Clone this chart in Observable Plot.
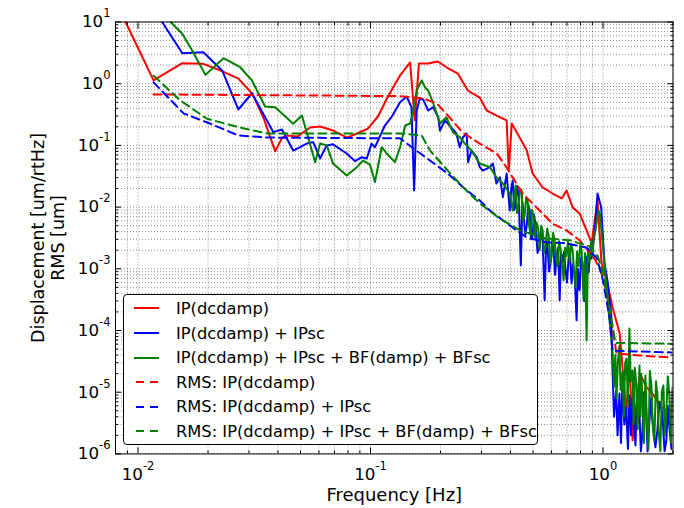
<!DOCTYPE html>
<html><head><meta charset="utf-8">
<script src="https://cdn.jsdelivr.net/npm/d3@7"></script>
<script src="https://cdn.jsdelivr.net/npm/@observablehq/plot@0.6"></script>
<style>
html,body{margin:0;padding:0;background:#fff;}
#wrap{position:relative;width:684px;height:508px;overflow:hidden;font-family:"DejaVu Sans",sans-serif;}
#legend{position:absolute;left:123px;top:294px;width:415px;height:151px;border:1px solid #000;border-radius:4px;background:#fff;box-sizing:border-box;}
.row{position:absolute;left:0;height:20px;display:flex;align-items:center;font-size:16.3px;color:#000;white-space:nowrap;}
.row svg{margin-left:10px;margin-right:17px;}
</style></head><body><div id="wrap"></div>
<script>
// ---- data: [frequency Hz, value] ----
const ipDcdamp = [
[0.00884,10],[0.01166,1.13],[0.0155,2.15],[0.0191,2.1],[0.0226,1.64],[0.027,1.21],[0.031,0.69],[0.0346,0.283],
[0.0389,0.080],[0.0417,0.134],[0.0438,0.145],[0.0484,0.139],[0.055,0.195],[0.0607,0.202],[0.069,0.174],[0.0793,0.134],
[0.0875,0.156],[0.0976,0.188],[0.1076,0.294],[0.1177,0.575],[0.125,0.867],[0.134,1.36],[0.148,2.21],[0.155,0.254],
[0.1615,2.12],[0.1767,2.12],[0.195,2.29],[0.213,1.83],[0.2375,1.46],[0.262,0.776],[0.295,0.597],[0.316,0.368],
[0.349,0.305],[0.385,0.254],[0.393,0.039],[0.405,0.226],[0.438,0.134],[0.47,0.0826],[0.498,0.035],[0.55,0.0208],
[0.607,0.0166],[0.664,0.0138],[0.697,0.0186],[0.74,0.0099],[0.793,0.0079],[0.85,0.0042],[0.893,0.0026],[0.947,0.0128],
[0.985,0.00126],[1.035,6.5e-4],[1.1,2.36e-4],[1.18,8.9e-5],[1.26,4.5e-6],[1.3,3.3e-5],[1.34,1.66e-6],[1.44,2.0e-5],
[1.54,1.2e-5],[1.63,9.5e-6],[1.8,5.6e-6],[1.93,4.5e-6]
];
const ipIpsc = [
[0.0127,10],[0.0155,3.12],[0.0191,3.24],[0.023,1.64],[0.027,0.382],[0.0309,0.70],[0.0382,0.164],[0.0416,0.181],
[0.0465,0.0826],[0.0532,0.107],[0.0567,0.113],[0.0607,0.0614],[0.0648,0.1],[0.069,0.104],[0.079,0.074],[0.0858,0.0555],
[0.0917,0.0644],[0.0963,0.0614],[0.101,0.107],[0.1045,0.0935],[0.1153,0.21],[0.123,0.286],[0.134,0.50],[0.143,0.62],
[0.150,0.416],[0.154,0.0186],[0.158,0.368],[0.163,0.575],[0.1685,0.555],[0.177,0.368],[0.186,0.416],[0.1955,0.286],
[0.199,0.174],[0.209,0.254],[0.219,0.21],[0.234,0.156],[0.242,0.0935],[0.25,0.136],[0.259,0.156],[0.263,0.0535],
[0.272,0.0826],[0.286,0.0644],[0.295,0.0444],[0.304,0.039],[0.326,0.0444],[0.336,0.051],[0.348,0.0241],[0.36,0.0305],
[0.371,0.0145],[0.385,0.035],
[0.397,0.0088],[0.403,0.02],[0.409,0.027],[0.415,0.009],[0.421,0.0106],[0.427,0.022],[0.434,0.0154],[0.443,0.00113],
[0.45,0.012],[0.456,0.0073],[0.463,0.0035],[0.470,0.005],[0.477,0.011],[0.484,0.0088],[0.491,0.003],[0.498,0.0035],
[0.505,0.0075],[0.513,0.005],[0.523,0.0018],[0.534,0.0024],[0.542,0.0042],[0.550,0.0029],[0.561,3.1e-4],[0.57,0.0032],
[0.578,0.0021],[0.586,0.0009],[0.595,0.00126],[0.604,0.0028],[0.613,0.002],[0.622,8e-4],[0.632,0.00164],[0.641,0.0022],
[0.651,3.1e-4],[0.660,0.0018],[0.670,0.00126],[0.680,0.0019],[0.690,9.4e-4],[0.70,0.0006],[0.711,0.00147],[0.721,0.0018],
[0.732,5.8e-4],[0.743,0.0012],[0.755,7.8e-4],[0.770,1.46e-4],[0.78,0.001],[0.793,4.5e-4],[0.805,0.0015],[0.817,0.00126],
[0.829,3e-4],[0.841,6.5e-4],[0.854,0.0016],[0.867,8.7e-4],[0.879,0.0019],[0.892,0.00147],[0.905,0.0025],[0.919,0.0035],
[0.933,0.008],[0.947,0.0166],[0.982,0.0099],[1.015,0.00122],[1.045,6.5e-4],[1.084,1.9e-4],
[1.098,2.5e-5],[1.115,4e-6],[1.139,1.07e-5],[1.155,2e-6],[1.177,9.5e-6],[1.195,1.5e-6],[1.212,1.55e-5],[1.235,3e-6],
[1.258,5.6e-6],[1.28,1.2e-6],[1.299,8.8e-6],[1.32,2e-6],[1.339,8.2e-6],[1.379,1.37e-6],[1.40,9e-6],[1.435,4.5e-6],
[1.455,1.1e-6],[1.477,2.1e-6],[1.50,1e-5],[1.532,5.6e-6],[1.555,1.1e-6],[1.584,3.5e-6],[1.61,8e-6],[1.631,3.5e-6],
[1.68,1.28e-6],[1.713,2.4e-6],[1.75,7e-6],[1.80,4.5e-6],[1.84,1.1e-6],[1.873,1.66e-6],[1.90,6e-6],[1.929,2.7e-6],[1.97,1.2e-6]
];
const ipIpscBfBfsc = [
[0.0138,10],[0.0155,6.44],[0.0171,3.45],[0.0195,1.39],[0.0233,2.59],[0.0275,1.85],[0.0309,1.13],[0.0352,0.427],
[0.0389,0.416],[0.0465,0.224],[0.0507,0.305],[0.0578,0.0535],[0.0607,0.107],[0.0648,0.1],[0.069,0.051],[0.079,0.0325],
[0.0873,0.0444],[0.0929,0.0569],[0.0995,0.049],[0.1045,0.0254],[0.1117,0.0935],[0.1174,0.074],[0.1274,0.0535],[0.134,0.0935],
[0.141,0.21],[0.148,0.226],[0.152,0.329],[0.158,0.776],[0.166,1.13],[0.1715,0.877],[0.177,0.776],[0.1855,0.50],
[0.199,0.226],[0.212,0.286],[0.226,0.164],[0.242,0.136],[0.2545,0.107],[0.272,0.0826],[0.295,0.051],[0.326,0.0444],
[0.348,0.0305],[0.371,0.0241],[0.397,0.0166],
[0.409,0.0088],[0.415,0.015],[0.421,0.0224],[0.427,0.008],[0.434,0.0106],[0.44,0.02],[0.447,0.0186],[0.453,0.006],
[0.460,0.0073],[0.467,0.014],[0.474,0.0128],[0.481,0.005],[0.488,0.0035],[0.495,0.009],[0.503,0.0073],[0.51,0.0032],
[0.518,0.0057],[0.526,0.0045],[0.534,0.002],[0.542,0.005],[0.550,0.0042],[0.558,0.0018],[0.567,0.0024],[0.575,0.0045],
[0.584,0.0035],[0.592,0.0012],[0.601,0.0016],[0.61,0.0038],[0.619,0.0029],[0.628,0.0015],[0.638,0.0011],[0.647,0.0028],
[0.657,0.0021],[0.667,0.0012],[0.677,6.5e-4],[0.687,0.0022],[0.697,0.0016],[0.707,0.0028],[0.718,0.0013],[0.729,0.0025],
[0.740,0.002],[0.751,0.0009],[0.762,5.1e-4],[0.773,0.0019],[0.785,0.0011],[0.797,0.0024],[0.809,0.002],[0.817,9e-4],
[0.825,3.1e-4],[0.837,0.0018],[0.850,6.9e-5],[0.862,0.0021],[0.875,0.0013],[0.888,0.0028],[0.901,0.0016],[0.915,0.0035],
[0.929,0.0042],[0.943,0.0065],[0.957,0.0088],[0.971,0.0075],[0.985,0.0042],[1.025,7.8e-4],[1.066,1.46e-4],
[1.098,4.7e-5],[1.115,1.2e-5],[1.13,4e-5],[1.143,8e-6],[1.16,3.3e-5],[1.177,5.7e-5],[1.19,1.1e-5],[1.212,2.1e-5],
[1.23,4e-6],[1.245,3e-5],[1.262,3.5e-5],[1.28,6e-6],[1.299,1.08e-4],[1.315,1.5e-5],[1.339,2.25e-5],[1.355,3e-6],
[1.37,2.5e-5],[1.393,1.29e-5],[1.41,2.5e-6],[1.435,2.7e-5],[1.45,4e-6],[1.46,2e-5],[1.477,8.85e-6],[1.50,1.5e-6],
[1.522,1.87e-5],[1.545,3e-6],[1.568,1.2e-6],[1.59,2.2e-5],[1.615,1.29e-5],[1.64,2.5e-6],[1.663,1.66e-6],[1.69,1.5e-5],
[1.713,8.85e-6],[1.74,2e-6],[1.765,1.1e-6],[1.79,1e-5],[1.818,1.29e-5],[1.845,2e-6],[1.873,5.1e-6],[1.90,1.8e-5],
[1.929,8.85e-6],[1.96,1.5e-6],[1.99,1.2e-5]
];
const rmsIpDcdamp = [
[0.01166,0.67],[0.134,0.63],[0.151,0.6],[0.168,0.58],[0.193,0.477],[0.219,0.283],[0.249,0.162],[0.295,0.107],
[0.349,0.074],[0.385,0.0438],[0.451,0.0166],[0.607,0.0054],[0.697,0.0042],[0.793,0.0029],[0.901,0.00164],[0.966,0.00105],
[1.035,4.46e-4],[1.098,1.12e-4],[1.143,4.24e-5],[1.435,3.94e-5],[1.98,3.65e-5]
];
const rmsIpIpsc = [
[0.01166,1.05],[0.0157,0.33],[0.0205,0.224],[0.027,0.145],[0.036,0.134],[0.134,0.13],[0.151,0.093],[0.18,0.057],
[0.215,0.035],[0.25,0.021],[0.295,0.0128],[0.326,0.0088],[0.385,0.0055],[0.47,0.0032],[0.57,0.0027],[0.69,0.0026],
[0.85,0.0022],[0.94,0.0015],[1.0,6.5e-4],[1.07,1.5e-4],[1.1,4.7e-5],[1.98,4.4e-5]
];
const rmsAll = [
[0.01166,1.35],[0.0152,0.535],[0.0198,0.27],[0.0275,0.195],[0.036,0.156],[0.134,0.156],[0.166,0.145],[0.18,0.083],
[0.215,0.039],[0.25,0.021],[0.295,0.0115],[0.36,0.0065],[0.44,0.0042],[0.57,0.0031],[0.72,0.0029],[0.875,0.0023],
[0.95,0.0016],[1.01,7.5e-4],[1.08,1.8e-4],[1.13,6.3e-5],[1.98,6.1e-5]
];
const seriesNames = ["IP(dcdamp)","IP(dcdamp) + IPsc","IP(dcdamp) + IPsc + BF(damp) + BFsc",
  "RMS: IP(dcdamp)","RMS: IP(dcdamp) + IPsc","RMS: IP(dcdamp) + IPsc + BF(damp) + BFsc"];
const seriesColors = ["#ff0000","#0000ff","#008000","#ff0000","#0000ff","#008000"];
const seriesDashed = [false,false,false,true,true,true];
const seriesData = [ipDcdamp, ipIpsc, ipIpscBfBfsc, rmsIpDcdamp, rmsIpIpsc, rmsAll];

const xMajor = [0.01, 0.1, 1];
const xMinor = [0.008,0.009,0.02,0.03,0.04,0.05,0.06,0.07,0.08,0.09,0.2,0.3,0.4,0.5,0.6,0.7,0.8,0.9,2];
const yMajor = [1e-6,1e-5,1e-4,1e-3,1e-2,1e-1,1,10];
const yMinor = yMajor.slice(0,-1).flatMap(d => [2,3,4,5,6,7,8,9].map(m => m*d));
const xLabel = "Frequency [Hz]";
const yLabel = "Displacement [um/rtHz]\nRMS [um]";

const gridOpts = {stroke:"#000", strokeOpacity:0.55, strokeWidth:0.8, strokeDasharray:"1,2"};
const tk = {stroke:"#000", label:null, tickFormat:() => ""};
const fmt = d => "10^" + Math.round(Math.log10(d));

const lineMarks = seriesData.map((data,i) => Plot.line(data, {
  x: d => d[0], y: d => d[1], stroke: seriesColors[i], strokeWidth: 2,
  strokeDasharray: seriesDashed[i] ? "8,5" : null, strokeLinejoin:"round", clip: true
}));

const chart = Plot.plot({
  width: 684, height: 508,
  marginLeft: 115, marginRight: 11.5, marginTop: 21.5, marginBottom: 54.6,
  x: {type:"log", domain:[0.008, 2]},
  y: {type:"log", domain:[1e-6, 10]},
  style: {fontFamily:'"DejaVu Sans", sans-serif', fontSize:"16.7px", background:"#fff", color:"#000", overflow:"visible"},
  marks: [
    Plot.gridX(xMinor.concat(xMajor), gridOpts),
    Plot.gridY(yMinor.concat(yMajor), gridOpts),
    ...lineMarks,
    Plot.axisX(xMajor, {anchor:"bottom", tickSize:-6, ...tk}),
    Plot.axisX(xMajor, {anchor:"top", tickSize:-6, ...tk}),
    Plot.axisX(xMinor, {anchor:"bottom", tickSize:-3, ...tk}),
    Plot.axisX(xMinor, {anchor:"top", tickSize:-3, ...tk}),
    Plot.axisY(yMajor, {anchor:"left", tickSize:-6, ...tk}),
    Plot.axisY(yMajor, {anchor:"right", tickSize:-6, ...tk}),
    Plot.axisY(yMinor, {anchor:"left", tickSize:-3, ...tk}),
    Plot.axisY(yMinor, {anchor:"right", tickSize:-3, ...tk}),
    Plot.axisX(xMajor, {anchor:"bottom", tickSize:0, tickPadding:14, tickFormat: fmt, label:null}),
    Plot.axisY(yMajor, {anchor:"left", tickSize:0, tickPadding:5, tickFormat: fmt, label:null}),
    Plot.frame({stroke:"#000", strokeWidth:1}),
    Plot.text([xLabel], {frameAnchor:"bottom", dy:47.5, text: d => d, fontSize:18, textAnchor:"middle"}),
    Plot.text([yLabel], {frameAnchor:"left", dx:-68, rotate:-90, text: d => d, fontSize:17.5, lineHeight:1.15, lineAnchor:"middle", textAnchor:"middle"})
  ]
});

// superscript exponents
const NS = "http://www.w3.org/2000/svg";
for (const t of chart.querySelectorAll("text")) {
  const m = /^10\^(.+)$/.exec(t.textContent);
  if (!m) continue;
  t.textContent = "";
  const base = document.createElementNS(NS, "tspan"); base.textContent = "10";
  const sup = document.createElementNS(NS, "tspan"); sup.textContent = m[1];
  sup.setAttribute("dy", "-10"); sup.setAttribute("font-size", "11.5");
  t.append(base, sup);
}

const wrap = document.getElementById("wrap");
wrap.appendChild(chart);

// legend
const legend = document.createElement("div");
legend.id = "legend";
const rowCenters = [13, 38, 62.5, 87, 111.5, 136];
seriesNames.forEach((name, i) => {
  const row = document.createElement("div");
  row.className = "row";
  row.style.top = (rowCenters[i] - 10) + "px";
  row.innerHTML = `<svg width="25" height="6"><line x1="0" x2="25" y1="3" y2="3" stroke="${seriesColors[i]}" stroke-width="2" ${seriesDashed[i] ? 'stroke-dasharray="8,6" stroke-dashoffset="-2"' : ""}/></svg><span>${name}</span>`;
  legend.appendChild(row);
});
wrap.appendChild(legend);
</script></body></html>
